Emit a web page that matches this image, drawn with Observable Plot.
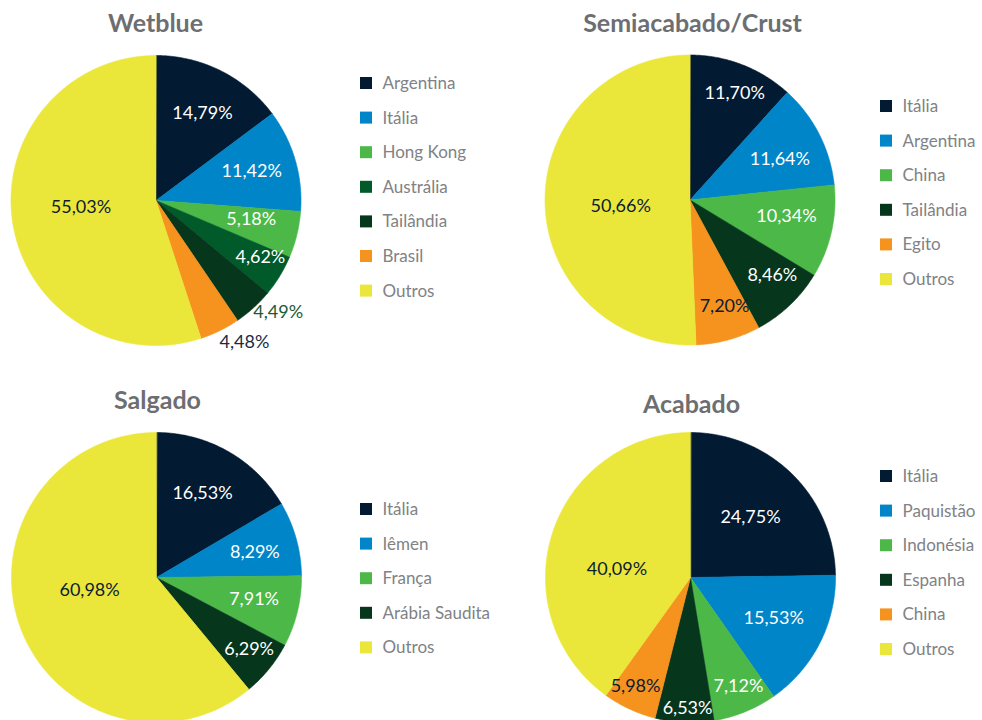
<!DOCTYPE html>
<html><head><meta charset="utf-8">
<script src="https://cdn.jsdelivr.net/npm/d3@7"></script>
<script src="https://cdn.jsdelivr.net/npm/@observablehq/plot@0.6"></script>
<style>html,body{margin:0;padding:0;background:#fff;} #chart{width:982px;height:720px;}</style>
</head><body><div id="chart"></div>
<script>
// ---- data ----
const chartTitles = ["Wetblue", "Semiacabado/Crust", "Salgado", "Acabado"];
const wetblueCountries = ["Argentina", "Itália", "Hong Kong", "Austrália", "Tailândia", "Brasil", "Outros"];
const wetblueShares = [14.79, 11.42, 5.18, 4.62, 4.49, 4.48, 55.03];
const crustCountries = ["Itália", "Argentina", "China", "Tailândia", "Egito", "Outros"];
const crustShares = [11.70, 11.64, 10.34, 8.46, 7.20, 50.66];
const salgadoCountries = ["Itália", "Iêmen", "França", "Arábia Saudita", "Outros"];
const salgadoShares = [16.53, 8.29, 7.91, 6.29, 60.98];
const acabadoCountries = ["Itália", "Paquistão", "Indonésia", "Espanha", "China", "Outros"];
const acabadoShares = [24.75, 15.53, 7.12, 6.53, 5.98, 40.09];

// ---- styles / layout ----
const NAVY = "#021a32", BLUE = "#0085c8", GREEN = "#4cb848", AUS = "#005a2a",
      DKG = "#06361c", ORANGE = "#f6921e", YELLOW = "#ebe73a", W = "#ffffff", DARK = "#0b1c33";
const seriesList = [
  [wetblueCountries, wetblueShares],
  [crustCountries, crustShares],
  [salgadoCountries, salgadoShares],
  [acabadoCountries, acabadoShares]
];
const layout = [
  {cx: 155.5, cy: 200, r: 145, tx: 155, ty: 31, lx: 360, ly: 83,
   colors: [NAVY, BLUE, GREEN, AUS, DKG, ORANGE, YELLOW],
   lr: [0.68, 0.69, 0.67, 0.82, 1.14, 1.15, 0.52], la: [1.5, -0.7, -2.4, -2.7, -5.4, -5.9, 3.7],
   lc: [W, W, W, W, "#1d5a33", "#1b2b46", DARK]},
  {cx: 689.5, cy: 199.5, r: 145, tx: 692, ty: 31, lx: 880, ly: 106,
   colors: [NAVY, BLUE, GREEN, DKG, ORANGE, YELLOW],
   lr: [0.80, 0.68, 0.675, 0.77, 0.77, 0.48], la: [1.6, 2.6, -2.9, -4, -2.7, -4.1],
   lc: [W, W, W, W, DARK, DARK]},
  {cx: 156, cy: 577, r: 145, tx: 157, ty: 408, lx: 360, ly: 509,
   colors: [NAVY, BLUE, GREEN, DKG, YELLOW],
   lr: [0.66, 0.70, 0.69, 0.81, 0.47], la: [-1, 1.3, -0.9, -1.2, 8.8],
   lc: [W, W, W, W, DARK]},
  {cx: 690, cy: 577, r: 145, tx: 691, ty: 412, lx: 880, ly: 476,
   colors: [NAVY, BLUE, GREEN, DKG, ORANGE, YELLOW],
   lr: [0.585, 0.64, 0.82, 0.90, 0.84, 0.51], la: [0.5, -0.8, -1.6, -1.1, 1.9, -11.5],
   lc: [W, W, W, W, DARK, DARK]}
];
const legendStep = 34.6;
const titleSize = 25, labelSize = 18, legendSize = 17;

// ---- build mark data ----
const slices = [], labels = [], legendRows = [], titles = [];
const rad = d => d * Math.PI / 180;
seriesList.forEach(([names, values], ci) => {
  const L = layout[ci];
  const total = d3.sum(values);
  let acc = 0;
  values.forEach((v, i) => {
    const a0 = acc / total * 360, a1 = (acc + v) / total * 360;
    acc += v;
    const key = ci + "-" + i;
    slices.push({key, x: L.cx, y: L.cy, color: L.colors[i]});
    const n = Math.max(2, Math.ceil((a1 - a0) / 0.5));
    for (let k = 0; k <= n; k++) {
      const a = rad(a0 + (a1 - a0) * k / n);
      slices.push({key, x: L.cx + L.r * Math.sin(a), y: L.cy - L.r * Math.cos(a), color: L.colors[i]});
    }
    const am = rad((a0 + a1) / 2 + L.la[i]);
    labels.push({
      x: L.cx + L.r * L.lr[i] * Math.sin(am),
      y: L.cy - L.r * L.lr[i] * Math.cos(am),
      text: v.toFixed(2).replace(".", ",") + "%",
      color: L.lc[i]
    });
    legendRows.push({x: L.lx, y: L.ly + i * legendStep, name: names[i], color: L.colors[i]});
  });
  titles.push({x: L.tx, y: L.ty - 0.32 * titleSize, text: chartTitles[ci]});
});

const plot = Plot.plot({
  width: 982, height: 720, margin: 0,
  x: {domain: [0, 982], range: [0, 982], axis: null},
  y: {domain: [0, 720], range: [0, 720], axis: null},
  color: {type: "identity"},
  style: {fontFamily: "Lato, sans-serif", background: "#fff", overflow: "visible"},
  marks: [
    Plot.line(slices, {x: "x", y: "y", z: "key", fill: "color", stroke: "color", strokeWidth: 0.6, curve: "linear-closed"}),
    Plot.text(labels, {x: "x", y: "y", text: "text", fill: "color", fontSize: labelSize, fontFamily: "Lato", textAnchor: "middle"}),
    Plot.rect(legendRows, {x1: "x", x2: d => d.x + 12, y1: d => d.y - 6, y2: d => d.y + 6, fill: "color"}),
    Plot.text(legendRows, {x: d => d.x + 22, y: "y", text: "name", fill: "#808285", fontSize: legendSize, fontFamily: "Lato", textAnchor: "start"}),
    Plot.text(titles, {x: "x", y: "y", text: "text", fill: "#6d6e71", fontSize: titleSize, fontWeight: "bold", fontFamily: "Lato", textAnchor: "middle"})
  ]
});
document.getElementById("chart").appendChild(plot);
</script>
</body></html>
